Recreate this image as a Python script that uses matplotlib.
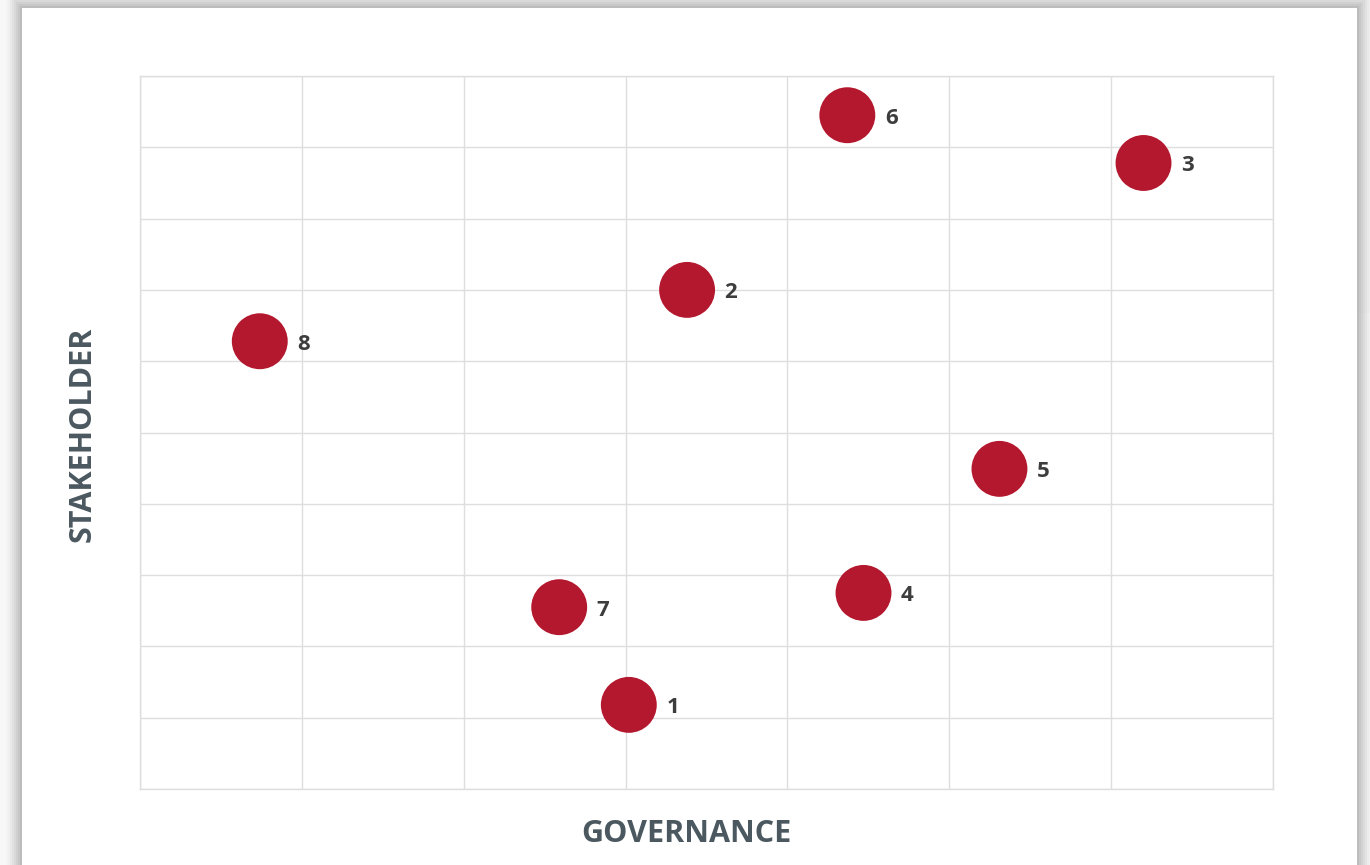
import matplotlib
matplotlib.use("Agg")
import matplotlib.pyplot as plt
from matplotlib.patches import Rectangle

labels = ["1", "2", "3", "4", "5", "6", "7", "8"]
governance = [3.02, 3.38, 6.20, 4.47, 5.31, 4.37, 2.59, 0.74]
stakeholder = [1.18, 7.00, 8.78, 2.75, 4.49, 9.45, 2.55, 6.28]

W, H = 1370, 865
fig = plt.figure(figsize=(W / 100, H / 100), dpi=100)
fig.patch.set_facecolor("#f8f8f8")

# lighter background bottom-right
fig.patches.append(Rectangle((1357 / W, 0), 13 / W, 1 - 313 / H, transform=fig.transFigure,
                             facecolor="#fbfbfb", edgecolor="none", zorder=-5))
# card shadow
for i, a in enumerate([0.015, 0.02, 0.025, 0.03, 0.035, 0.04, 0.045, 0.05]):
    d = (8 - i) * 2
    fig.patches.append(Rectangle(((22 - d) / W, 0), (1335 + 2 * d) / W, (H - 8 + d) / H,
                                 transform=fig.transFigure, facecolor="black",
                                 edgecolor="none", alpha=a, zorder=-4))
fig.patches.append(Rectangle((22 / W, 0), 1335 / W, (H - 8) / H, transform=fig.transFigure,
                             facecolor="white", edgecolor="none", zorder=-3))

ax = fig.add_axes([140 / W, 1 - 789 / H, (1273 - 140) / W, (789 - 76) / H])
ax.set_zorder(2)
ax.set_facecolor("white")
ax.set_xlim(0, 7)
ax.set_ylim(0, 10)
ax.set_xticks(range(0, 8))
ax.set_yticks(range(0, 11))
ax.grid(True, color="#dedede", linewidth=1)
ax.tick_params(length=0, labelbottom=False, labelleft=False)
for s in ax.spines.values():
    s.set_color("#dedede")
    s.set_linewidth(1)
ax.set_axisbelow(True)

ax.scatter(governance, stakeholder, s=1620, color="#b3182e", edgecolors="none", zorder=3)
for lab, x, y in zip(labels, governance, stakeholder):
    ax.annotate(lab, (x, y), xytext=(27, -6), textcoords="offset points",
                ha="left", va="baseline", fontsize=16, fontweight="bold",
                color="#3d3d3d", family="Open Sans", zorder=4)

fig.text(686 / W, 1 - 834 / H, "GOVERNANCE", ha="center", va="center",
         fontsize=22, fontweight="bold", color="#4b5860", family="Open Sans", zorder=5)
fig.text(83 / W, 1 - 434 / H, "STAKEHOLDER", ha="center", va="center", rotation=90,
         fontsize=22, fontweight="bold", color="#4b5860", family="Open Sans", zorder=5)

fig.savefig("out.png", dpi=100, facecolor=fig.get_facecolor())
